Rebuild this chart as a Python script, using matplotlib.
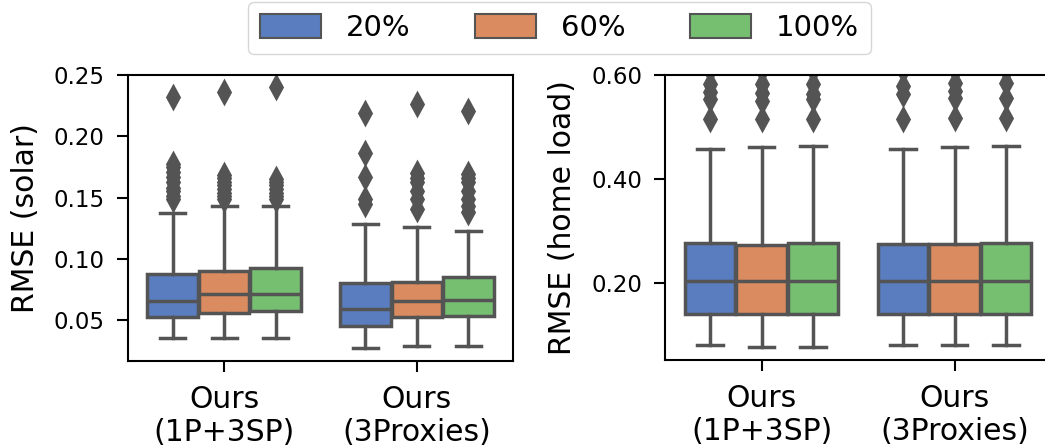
import matplotlib
matplotlib.use("Agg")
import matplotlib.pyplot as plt
from matplotlib.patches import Patch
from matplotlib.ticker import FormatStrFormatter

# ---------------- data ----------------
groups = ["Ours\n(1P+3SP)", "Ours\n(3Proxies)"]
hues = ["20%", "60%", "100%"]
colors = ["#597dbf", "#da8b5f", "#76bf71"]

# solar RMSE, indexed [group][hue]
solar_med = [[0.0655, 0.0712, 0.0712], [0.0590, 0.0652, 0.0663]]
solar_q1 = [[0.0523, 0.0560, 0.0570], [0.0448, 0.0527, 0.0535]]
solar_q3 = [[0.0875, 0.0903, 0.0924], [0.0799, 0.0813, 0.0848]]
solar_whislo = [[0.0353, 0.0353, 0.0353], [0.0276, 0.0288, 0.0288]]
solar_whishi = [[0.1373, 0.1428, 0.1428], [0.1284, 0.1256, 0.1223]]
solar_fliers = [
    [[0.2317, 0.1776, 0.1746, 0.1710, 0.1664, 0.1630, 0.1580, 0.1550, 0.1515, 0.1490],
     [0.2358, 0.1680, 0.1660, 0.1630, 0.1600, 0.1570, 0.1540, 0.1515, 0.1490],
     [0.2404, 0.1654, 0.1630, 0.1600, 0.1570, 0.1540, 0.1515, 0.1490]],
    [[0.2190, 0.1866, 0.1664, 0.1488, 0.1445],
     [0.2263, 0.1700, 0.1660, 0.1628, 0.1550, 0.1488, 0.1406],
     [0.2209, 0.1696, 0.1660, 0.1628, 0.1550, 0.1488, 0.1430, 0.1380]],
]

# home load RMSE, indexed [group][hue]
home_med = [[0.2037, 0.2037, 0.2037], [0.2037, 0.2037, 0.2037]]
home_q1 = [[0.1390, 0.1390, 0.1390], [0.1390, 0.1390, 0.1390]]
home_q3 = [[0.2769, 0.2725, 0.2757], [0.2738, 0.2738, 0.2757]]
home_whislo = [[0.0798, 0.0765, 0.0765], [0.0798, 0.0798, 0.0798]]
home_whishi = [[0.4568, 0.4607, 0.4632], [0.4568, 0.4607, 0.4632]]
home_fliers = [
    [[0.6100, 0.5827, 0.5680, 0.5538, 0.5152],
     [0.6100, 0.5827, 0.5660, 0.5500, 0.5152],
     [0.6100, 0.5827, 0.5640, 0.5538, 0.5152]],
    [[0.6100, 0.5790, 0.5634, 0.5152],
     [0.6100, 0.5852, 0.5700, 0.5563, 0.5177],
     [0.6100, 0.5852, 0.5563, 0.5177]],
]

# ---------------- style ----------------
gray = "#545454"
LW = 2.5
plt.rcParams["font.family"] = "DejaVu Sans"

W, H = 1045, 446
fig = plt.figure(figsize=(W / 100, H / 100), dpi=100)
ax1 = fig.add_axes([127.7 / W, (H - 361) / H, 385.6 / W, (361 - 74.5) / H])
ax2 = fig.add_axes([665 / W, (H - 360) / H, 386 / W, (360 - 74.5) / H])

n_h = len(hues)
each = 0.8 / n_h
offsets = [-0.8 / 2 + each / 2 + i * each for i in range(n_h)]
bw = each * 0.98


def draw(ax, med, q1, q3, wlo, whi, fl):
    for g in range(len(groups)):
        for h in range(n_h):
            st = [dict(med=med[g][h], q1=q1[g][h], q3=q3[g][h],
                       whislo=wlo[g][h], whishi=whi[g][h], fliers=fl[g][h])]
            ax.bxp(st, positions=[g + offsets[h]], widths=bw, patch_artist=True,
                   manage_ticks=False,
                   boxprops=dict(facecolor=colors[h], edgecolor=gray, linewidth=LW),
                   medianprops=dict(color=gray, linewidth=LW),
                   whiskerprops=dict(color=gray, linewidth=LW),
                   capprops=dict(color=gray, linewidth=LW),
                   flierprops=dict(marker="d", markersize=11, markerfacecolor=gray,
                                   markeredgecolor=gray, markeredgewidth=2))
    ax.set_xlim(-0.5, len(groups) - 0.5)
    ax.set_xticks(range(len(groups)))
    ax.set_xticklabels(groups, fontsize=21.5)
    ax.tick_params(axis="y", labelsize=16.5, length=8, width=1.5, pad=8.5)
    ax.tick_params(axis="x", length=8, width=1.5, pad=9)
    for s in ax.spines.values():
        s.set_linewidth(1.5)


draw(ax1, solar_med, solar_q1, solar_q3, solar_whislo, solar_whishi, solar_fliers)
draw(ax2, home_med, home_q1, home_q3, home_whislo, home_whishi, home_fliers)

ax1.set_ylim(0.0166, 0.2504)
ax1.set_yticks([0.05, 0.10, 0.15, 0.20, 0.25])
ax1.yaxis.set_major_formatter(FormatStrFormatter("%.2f"))
ax1.set_ylabel("RMSE (solar)", fontsize=21.5, labelpad=10)

ax2.set_ylim(0.051, 0.601)
ax2.set_yticks([0.20, 0.40, 0.60])
ax2.yaxis.set_major_formatter(FormatStrFormatter("%.2f"))
ax2.set_ylabel("RMSE (home load)", fontsize=21.5, labelpad=10)

handles = [Patch(facecolor=c, edgecolor=gray, linewidth=1.5, label=l)
           for c, l in zip(colors, hues)]
fig.legend(handles=handles, loc="upper center",
           bbox_to_anchor=(559.5 / W, 1 - 2 / H), borderaxespad=0,
           ncol=3, fontsize=21, handlelength=2.1, handleheight=0.93,
           handletextpad=0.85, columnspacing=2.2, borderpad=0.4,
           frameon=True, fancybox=True)

fig.savefig("out.png", dpi=100)
